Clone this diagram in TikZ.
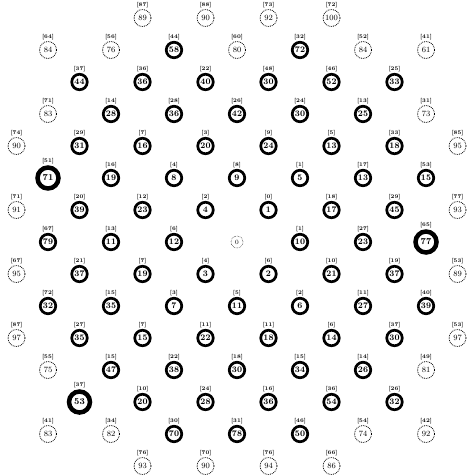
\documentclass[tikz,border=0pt]{standalone}
\usepackage{tikz}

\begin{document}
\begin{tikzpicture}[
  x=31.5pt, y=-32pt,
  cell/.style={circle, draw, line width=2.7pt, minimum size=15.5pt, inner sep=0pt,
    font=\fontsize{8.5}{9}\selectfont\bfseries},
  faint/.style={circle, draw, densely dotted, line width=0.8pt, minimum size=17pt,
    inner sep=0pt, font=\fontsize{8}{8}\selectfont},
  heavy/.style={circle, draw, line width=4.5pt, minimum size=21pt, inner sep=0pt,
    font=\fontsize{9}{9}\selectfont\bfseries},
  origin/.style={circle, draw, densely dotted, line width=0.5pt, minimum size=12pt,
    inner sep=0pt, font=\fontsize{6.5}{6.5}\selectfont},
  lbl/.style={font=\fontsize{5.5}{5.5}\selectfont\bfseries, inner sep=0.5pt, label distance=0.5pt}
]
  \useasboundingbox (-7.524,-7.5625) rectangle (7.333,7.281);

  %% Row -7
  \node[faint, label={[lbl]above:{[87]}}] (A1) at (-3,-7) {89};
  \node[faint, label={[lbl]above:{[88]}}] (A2) at (-1,-7) {90};
  \node[faint, label={[lbl]above:{[73]}}] (A3) at (1,-7) {92};
  \node[faint, label={[lbl]above:{[72]}}] (A4) at (3,-7) {100};

  %% Row -6
  \node[faint, label={[lbl]above:{[64]}}] (B1) at (-6,-6) {84};
  \node[faint, label={[lbl]above:{[56]}}] (B2) at (-4,-6) {76};
  \node[cell,  label={[lbl]above:{[44]}}] (B3) at (-2,-6) {58};
  \node[faint, label={[lbl]above:{[60]}}] (B4) at (0,-6) {80};
  \node[cell,  label={[lbl]above:{[32]}}] (B5) at (2,-6) {72};
  \node[faint, label={[lbl]above:{[52]}}] (B6) at (4,-6) {84};
  \node[faint, label={[lbl]above:{[41]}}] (B7) at (6,-6) {61};

  %% Row -5
  \node[cell, label={[lbl]above:{[37]}}] (C1) at (-5,-5) {44};
  \node[cell, label={[lbl]above:{[36]}}] (C2) at (-3,-5) {36};
  \node[cell, label={[lbl]above:{[22]}}] (C3) at (-1,-5) {40};
  \node[cell, label={[lbl]above:{[48]}}] (C4) at (1,-5) {30};
  \node[cell, label={[lbl]above:{[46]}}] (C5) at (3,-5) {52};
  \node[cell, label={[lbl]above:{[25]}}] (C6) at (5,-5) {33};

  %% Row -4
  \node[faint, label={[lbl]above:{[71]}}] (D1) at (-6,-4) {83};
  \node[cell,  label={[lbl]above:{[14]}}] (D2) at (-4,-4) {28};
  \node[cell,  label={[lbl]above:{[28]}}] (D3) at (-2,-4) {36};
  \node[cell,  label={[lbl]above:{[26]}}] (D4) at (0,-4) {42};
  \node[cell,  label={[lbl]above:{[24]}}] (D5) at (2,-4) {30};
  \node[cell,  label={[lbl]above:{[13]}}] (D6) at (4,-4) {25};
  \node[faint, label={[lbl]above:{[31]}}] (D7) at (6,-4) {73};

  %% Row -3
  \node[faint, label={[lbl]above:{[74]}}] (E1) at (-7,-3) {90};
  \node[cell,  label={[lbl]above:{[29]}}] (E2) at (-5,-3) {31};
  \node[cell,  label={[lbl]above:{[7]}}]  (E3) at (-3,-3) {16};
  \node[cell,  label={[lbl]above:{[3]}}]  (E4) at (-1,-3) {20};
  \node[cell,  label={[lbl]above:{[9]}}]  (E5) at (1,-3) {24};
  \node[cell,  label={[lbl]above:{[5]}}]  (E6) at (3,-3) {13};
  \node[cell,  label={[lbl]above:{[33]}}] (E7) at (5,-3) {18};
  \node[faint, label={[lbl]above:{[85]}}] (E8) at (7,-3) {95};

  %% Row -2
  \node[heavy, label={[lbl]above:{[51]}}] (F1) at (-6,-2) {71};
  \node[cell,  label={[lbl]above:{[16]}}] (F2) at (-4,-2) {19};
  \node[cell,  label={[lbl]above:{[4]}}]  (F3) at (-2,-2) {8};
  \node[cell,  label={[lbl]above:{[8]}}]  (F4) at (0,-2) {9};
  \node[cell,  label={[lbl]above:{[1]}}]  (F5) at (2,-2) {5};
  \node[cell,  label={[lbl]above:{[17]}}] (F6) at (4,-2) {13};
  \node[cell,  label={[lbl]above:{[53]}}] (F7) at (6,-2) {15};

  %% Row -1
  \node[faint, label={[lbl]above:{[71]}}] (G1) at (-7,-1) {91};
  \node[cell,  label={[lbl]above:{[20]}}] (G2) at (-5,-1) {39};
  \node[cell,  label={[lbl]above:{[12]}}] (G3) at (-3,-1) {23};
  \node[cell,  label={[lbl]above:{[2]}}]  (G4) at (-1,-1) {4};
  \node[cell,  label={[lbl]above:{[0]}}]  (G5) at (1,-1) {1};
  \node[cell,  label={[lbl]above:{[18]}}] (G6) at (3,-1) {17};
  \node[cell,  label={[lbl]above:{[29]}}] (G7) at (5,-1) {45};
  \node[faint, label={[lbl]above:{[77]}}] (G8) at (7,-1) {93};

  %% Row 0
  \node[cell,  label={[lbl]above:{[67]}}] (H1) at (-6,0) {79};
  \node[cell,  label={[lbl]above:{[13]}}] (H2) at (-4,0) {11};
  \node[cell,  label={[lbl]above:{[6]}}]  (H3) at (-2,0) {12};
  \node[origin] (H4) at (0,0) {0};
  \node[cell,  label={[lbl]above:{[1]}}]  (H5) at (2,0) {10};
  \node[cell,  label={[lbl]above:{[27]}}] (H6) at (4,0) {23};
  \node[heavy, label={[lbl]above:{[65]}}] (H7) at (6,0) {77};

  %% Row 1
  \node[faint, label={[lbl]above:{[67]}}] (I1) at (-7,1) {95};
  \node[cell,  label={[lbl]above:{[21]}}] (I2) at (-5,1) {37};
  \node[cell,  label={[lbl]above:{[7]}}]  (I3) at (-3,1) {19};
  \node[cell,  label={[lbl]above:{[4]}}]  (I4) at (-1,1) {3};
  \node[cell,  label={[lbl]above:{[6]}}]  (I5) at (1,1) {2};
  \node[cell,  label={[lbl]above:{[10]}}] (I6) at (3,1) {21};
  \node[cell,  label={[lbl]above:{[19]}}] (I7) at (5,1) {37};
  \node[faint, label={[lbl]above:{[53]}}] (I8) at (7,1) {89};

  %% Row 2
  \node[cell, label={[lbl]above:{[72]}}] (J1) at (-6,2) {32};
  \node[cell, label={[lbl]above:{[15]}}] (J2) at (-4,2) {35};
  \node[cell, label={[lbl]above:{[3]}}]  (J3) at (-2,2) {7};
  \node[cell, label={[lbl]above:{[5]}}]  (J4) at (0,2) {11};
  \node[cell, label={[lbl]above:{[2]}}]  (J5) at (2,2) {6};
  \node[cell, label={[lbl]above:{[11]}}] (J6) at (4,2) {27};
  \node[cell, label={[lbl]above:{[40]}}] (J7) at (6,2) {39};

  %% Row 3
  \node[faint, label={[lbl]above:{[87]}}] (K1) at (-7,3) {97};
  \node[cell,  label={[lbl]above:{[27]}}] (K2) at (-5,3) {35};
  \node[cell,  label={[lbl]above:{[7]}}]  (K3) at (-3,3) {15};
  \node[cell,  label={[lbl]above:{[11]}}] (K4) at (-1,3) {22};
  \node[cell,  label={[lbl]above:{[11]}}] (K5) at (1,3) {18};
  \node[cell,  label={[lbl]above:{[6]}}]  (K6) at (3,3) {14};
  \node[cell,  label={[lbl]above:{[37]}}] (K7) at (5,3) {30};
  \node[faint, label={[lbl]above:{[53]}}] (K8) at (7,3) {97};

  %% Row 4
  \node[faint, label={[lbl]above:{[55]}}] (L1) at (-6,4) {75};
  \node[cell,  label={[lbl]above:{[15]}}] (L2) at (-4,4) {47};
  \node[cell,  label={[lbl]above:{[22]}}] (L3) at (-2,4) {38};
  \node[cell,  label={[lbl]above:{[18]}}] (L4) at (0,4) {30};
  \node[cell,  label={[lbl]above:{[15]}}] (L5) at (2,4) {34};
  \node[cell,  label={[lbl]above:{[14]}}] (L6) at (4,4) {26};
  \node[faint, label={[lbl]above:{[49]}}] (L7) at (6,4) {81};

  %% Row 5
  \node[heavy, label={[lbl]above:{[37]}}] (M1) at (-5,5) {53};
  \node[cell,  label={[lbl]above:{[10]}}] (M2) at (-3,5) {20};
  \node[cell,  label={[lbl]above:{[24]}}] (M3) at (-1,5) {28};
  \node[cell,  label={[lbl]above:{[16]}}] (M4) at (1,5) {36};
  \node[cell,  label={[lbl]above:{[36]}}] (M5) at (3,5) {54};
  \node[cell,  label={[lbl]above:{[26]}}] (M6) at (5,5) {32};

  %% Row 6
  \node[faint, label={[lbl]above:{[41]}}] (N1) at (-6,6) {83};
  \node[faint, label={[lbl]above:{[34]}}] (N2) at (-4,6) {82};
  \node[cell,  label={[lbl]above:{[30]}}] (N3) at (-2,6) {70};
  \node[cell,  label={[lbl]above:{[31]}}] (N4) at (0,6) {78};
  \node[cell,  label={[lbl]above:{[46]}}] (N5) at (2,6) {50};
  \node[faint, label={[lbl]above:{[54]}}] (N6) at (4,6) {74};
  \node[faint, label={[lbl]above:{[42]}}] (N7) at (6,6) {92};

  %% Row 7
  \node[faint, label={[lbl]above:{[76]}}] (O1) at (-3,7) {93};
  \node[faint, label={[lbl]above:{[70]}}] (O2) at (-1,7) {90};
  \node[faint, label={[lbl]above:{[76]}}] (O3) at (1,7) {94};
  \node[faint, label={[lbl]above:{[66]}}] (O4) at (3,7) {86};

\end{tikzpicture}
\end{document}
